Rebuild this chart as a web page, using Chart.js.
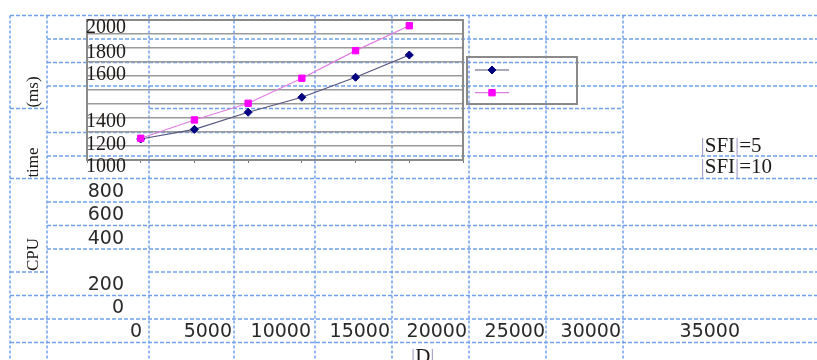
<!DOCTYPE html>
<html>
<head>
<meta charset="utf-8">
<script src="https://cdn.jsdelivr.net/npm/chart.js@4.4.1/dist/chart.umd.min.js"></script>
<style>
  html, body { margin: 0; padding: 0; background: #ffffff; }
  #wrap { position: relative; width: 817px; height: 360px; overflow: hidden; }
  canvas { display: block; }
</style>
</head>
<body>
<div id="wrap"><canvas id="c" width="817" height="360"></canvas></div>
<script>
// |D| sizes and measured CPU time (ms) for each |SFI| setting
const sizesD = [5000, 10000, 15000, 20000, 25000, 30000];
const timeSfi5 = [1150, 1219, 1341, 1448, 1591, 1750];
const timeSfi10 = [1155, 1286, 1405, 1584, 1781, 1959];
const seriesNames = ['|SFI|=5', '|SFI|=10'];

// Labels typed into the worksheet cells around the chart
const yTickLabels = ['2000', '1800', '1600', '1400', '1200', '1000', '800', '600', '400', '200', '0'];
const xTickLabels = ['0', '5000', '10000', '15000', '20000', '25000', '30000', '35000'];
const yTitleParts = ['CPU', 'time', '(ms)'];
const xTitle = '|D|';

// ---- worksheet layout (cell borders and where each cell's text sits) ----
const sheetCols = [10, 47, 149, 234, 315, 392, 469, 546, 623];
const sheetTop = 15.5;
const sheetRows = [
  [15.5,  [[10, 817]]],
  [39,    [[47, 817]]],
  [62.5,  [[47, 817]]],
  [86,    [[47, 817]]],
  [108.5, [[10, 47], [149, 623]]],
  [132.5, [[47, 623]]],
  [156,   [[47, 817]]],
  [178.5, [[10, 817]]],
  [202,   [[47, 817]]],
  [225.5, [[47, 817]]],
  [249,   [[47, 817]]],
  [272,   [[10, 47], [149, 817]]],
  [295.5, [[10, 817]]],
  [319,   [[10, 817]]],
  [342.5, [[10, 817]]]
];
const yLabelCells = [[126, 32.5], [126, 58.3], [126, 80], [126, 126.7], [126, 150], [126, 171.5],
                     [124, 197], [124, 220], [124, 244], [124, 290], [124, 313.3]];
const xLabelRight = [142, 232, 311, 390, 467, 545, 621, 740];
const xLabelBase = 337;
const yTitleCells = [254.5, 162.5, 92];   // vertical centres of the rotated title pieces
const SERIF = '"Liberation Serif", "Times New Roman", serif';
const SANS = '"DejaVu Sans", Verdana, sans-serif';
const INK = '#1e1a18';
const BAR_INK = '#a39bc9';

// draws text left-aligned, giving the "|" strokes their lighter ink
function barText(ctx, text, x, y) {
  let cx = x;
  for (const ch of text) {
    ctx.fillStyle = ch === '|' ? BAR_INK : INK;
    ctx.fillText(ch, cx, y);
    cx += ctx.measureText(ch).width;
  }
}

const worksheet = {
  id: 'worksheet',
  beforeDraw(chart) {
    const ctx = chart.ctx;
    ctx.save();
    ctx.fillStyle = '#ffffff';
    ctx.fillRect(0, 0, chart.width, chart.height);
    ctx.strokeStyle = '#70a0ec';
    ctx.lineWidth = 1.5;
    ctx.setLineDash([4, 2]);
    for (const [y, spans] of sheetRows) {
      for (const [a, b] of spans) {
        ctx.beginPath(); ctx.moveTo(a, y); ctx.lineTo(b, y); ctx.stroke();
      }
    }
    ctx.setLineDash([3, 2]);
    for (const x of sheetCols) {
      ctx.beginPath(); ctx.moveTo(x, sheetTop); ctx.lineTo(x, chart.height); ctx.stroke();
    }
    ctx.restore();
  },
  beforeDatasetsDraw(chart) {
    // plot-area frame
    const a = chart.chartArea, ctx = chart.ctx;
    ctx.save();
    ctx.strokeStyle = '#8a8a8a';
    ctx.lineWidth = 2;
    ctx.strokeRect(a.left, a.top, a.right - a.left, a.bottom - a.top);
    ctx.restore();
  },
  afterDraw(chart) {
    const ctx = chart.ctx;
    ctx.save();

    // legend box with line samples
    ctx.strokeStyle = '#8a8a8a';
    ctx.lineWidth = 2;
    ctx.strokeRect(467, 57, 110, 47);
    chart.data.datasets.forEach((ds, i) => {
      const y = 70 + i * 22.7;
      ctx.strokeStyle = ds.borderColor;
      ctx.lineWidth = ds.borderWidth;
      ctx.beginPath(); ctx.moveTo(475, y); ctx.lineTo(509, y); ctx.stroke();
      ctx.fillStyle = ds.pointBackgroundColor;
      ctx.strokeStyle = ds.pointBorderColor;
      ctx.lineWidth = ds.pointBorderWidth;
      Chart.helpers.drawPoint(ctx, {
        pointStyle: ds.pointStyle, radius: ds.pointRadius,
        rotation: 0, borderWidth: ds.pointBorderWidth
      }, 492, y);
    });

    ctx.fillStyle = INK;
    ctx.textBaseline = 'alphabetic';

    // value labels down the left column
    ctx.textAlign = 'right';
    yTickLabels.forEach((t, i) => {
      ctx.font = (i < 6 ? '20px ' + SERIF : '19px ' + SANS);
      ctx.fillStyle = i < 6 ? INK : '#2a2a2a';
      ctx.fillText(t, yLabelCells[i][0], yLabelCells[i][1]);
    });

    // |D| labels along the bottom row
    ctx.font = '19px ' + SANS;
    ctx.fillStyle = '#2a2a2a';
    xTickLabels.forEach((t, i) => ctx.fillText(t, xLabelRight[i], xLabelBase));

    // series names
    ctx.textAlign = 'left';
    ctx.font = '21px ' + SERIF;
    chart.data.datasets.forEach((ds, i) => barText(ctx, ds.label, 700.5, 151.7 + i * 21.3));

    // axis titles
    ctx.font = '21px ' + SERIF;
    barText(ctx, xTitle, 411, 363);
    ctx.fillStyle = INK;
    ctx.font = '17px ' + SERIF;
    ctx.textAlign = 'center';
    yTitleParts.forEach((t, i) => {
      ctx.save();
      ctx.translate(37.5, yTitleCells[i]);
      ctx.rotate(-Math.PI / 2);
      ctx.fillText(t, 0, 0);
      ctx.restore();
    });

    ctx.restore();
  }
};

const toPoints = (ys) => sizesD.map((d, i) => ({ x: d, y: ys[i] }));

new Chart(document.getElementById('c'), {
  type: 'line',
  data: {
    datasets: [
      {
        label: seriesNames[0],
        data: toPoints(timeSfi5),
        order: 1,
        borderColor: '#55557f',
        borderWidth: 1.2,
        pointStyle: 'rectRot',
        pointRadius: 4,
        pointBackgroundColor: '#000080',
        pointBorderColor: '#000080',
        pointBorderWidth: 1,
        tension: 0
      },
      {
        label: seriesNames[1],
        data: toPoints(timeSfi10),
        order: 0,
        borderColor: '#e07ce0',
        borderWidth: 1.2,
        pointStyle: 'rect',
        pointRadius: 4.5,
        pointBackgroundColor: '#ff00ff',
        pointBorderColor: '#ff00ff',
        pointBorderWidth: 1,
        tension: 0
      }
    ]
  },
  options: {
    responsive: false,
    animation: false,
    events: [],
    layout: { autoPadding: false, padding: { left: 87, top: 20, right: 354, bottom: 197 } },
    plugins: { legend: { display: false }, tooltip: { enabled: false } },
    scales: {
      x: {
        type: 'linear',
        min: 0, max: 35000,
        ticks: { stepSize: 5000, display: false },
        grid: { drawOnChartArea: false, drawTicks: true, tickLength: 3, color: '#777777', lineWidth: 1 },
        border: { display: false }
      },
      y: {
        type: 'linear',
        min: 1000, max: 2000,
        ticks: { stepSize: 100, display: false },
        grid: { drawTicks: false, color: '#9a9a9a', lineWidth: 1.5 },
        border: { display: false }
      }
    }
  },
  plugins: [worksheet]
});
</script>
</body>
</html>
